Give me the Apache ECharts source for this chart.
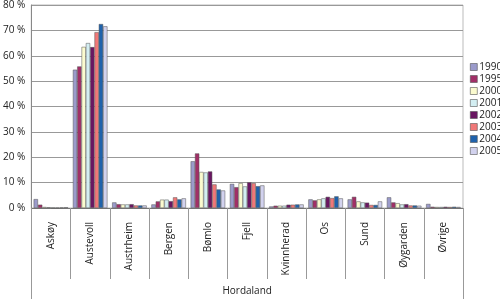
<!DOCTYPE html>
<html><head><meta charset="utf-8">
<script src="https://cdn.jsdelivr.net/npm/echarts@6/dist/echarts.min.js"></script>
<style>html,body{margin:0;padding:0;background:#fff}#c{width:500px;height:299px}</style>
</head><body><div id="c"></div>
<script>
const categories = ["Askøy","Austevoll","Austrheim","Bergen","Bømlo","Fjell","Kvinnherad","Os","Sund","Øygarden","Øvrige"];
const groupLabel = ["Hordaland"];
const years = ["1990","1995","2000","2001","2002","2003","2004","2005"];
const yTicks = [0,10,20,30,40,50,60,70,80];
const s1990 = [3.5,54.5,2.2,1.4,18.4,9.5,0.6,3.4,3.4,4.2,1.6];
const s1995 = [1.3,55.8,1.5,2.6,21.5,8.2,0.9,3.0,4.4,2.2,0.5];
const s2000 = [0.4,63.5,1.4,3.3,14.2,9.8,0.9,3.4,2.6,1.9,0.4];
const s2001 = [0.3,65.0,1.4,3.3,14.0,8.5,0.9,3.8,2.2,1.4,0.4];
const s2002 = [0.1,63.4,1.5,2.7,14.4,10.1,1.3,4.4,2.1,1.5,0.5];
const s2003 = [0.1,69.3,1.0,4.2,9.3,9.8,1.3,3.9,1.2,1.0,0.4];
const s2004 = [0.2,72.5,1.0,3.4,7.3,8.6,1.4,4.6,1.2,1.0,0.5];
const s2005 = [0.3,71.6,1.0,3.8,6.9,8.9,1.4,3.8,2.6,0.9,0.4];
const seriesData = [s1990,s1995,s2000,s2001,s2002,s2003,s2004,s2005];
const colors = ["#9b9bcb","#a12f67","#fbfbcf","#d3eef2","#6a1662","#f07878","#1f62ac","#d2d2ee"];

const font = "Open Sans";
const chart = echarts.init(document.getElementById('c'));
chart.setOption({
  animation:false,
  textStyle:{fontFamily:font},
  grid:{left:30,right:37,top:4,bottom:91,show:true,borderColor:'#bbb',borderWidth:1},
  legend:{
    orient:'vertical', left:465, top:57, itemWidth:7, itemHeight:7, itemGap:2,
    textStyle:{fontSize:10,color:'#222',fontFamily:font,padding:[0,0,0,-3]}, icon:'rect',
    itemStyle:{borderColor:'#555',borderWidth:0.6},
    data:years
  },
  xAxis:[{
    type:'category', data:categories, position:'bottom',
    axisLine:{lineStyle:{color:'#777',width:1}},
    axisTick:{show:true,length:71,interval:0,lineStyle:{color:'#999'}},
    axisLabel:{rotate:90,interval:0,margin:14,fontSize:10,color:'#222',fontFamily:font}
  },{
    type:'category', data:groupLabel, position:'bottom', gridIndex:0,
    axisLine:{show:false},
    axisTick:{show:true,length:91,lineStyle:{color:'#999'}},
    axisLabel:{margin:78,fontSize:10,color:'#222',fontFamily:font}
  }],
  yAxis:{
    type:'value', min:0, max:80, interval:10,
    axisLine:{show:true,lineStyle:{color:'#888'}},
    axisTick:{show:false},
    axisLabel:{formatter:v=>v+' %',fontSize:10,color:'#222',margin:6,fontFamily:font},
    splitLine:{lineStyle:{color:'#999',width:1}}
  },
  series: years.map((y,i)=>({
    name:y, type:'bar', xAxisIndex:0, data:seriesData[i],
    barGap:'0%', barCategoryGap:'12%',
    itemStyle:{color:colors[i],borderColor:'#555',borderWidth:0.5}
  }))
});
</script></body></html>
